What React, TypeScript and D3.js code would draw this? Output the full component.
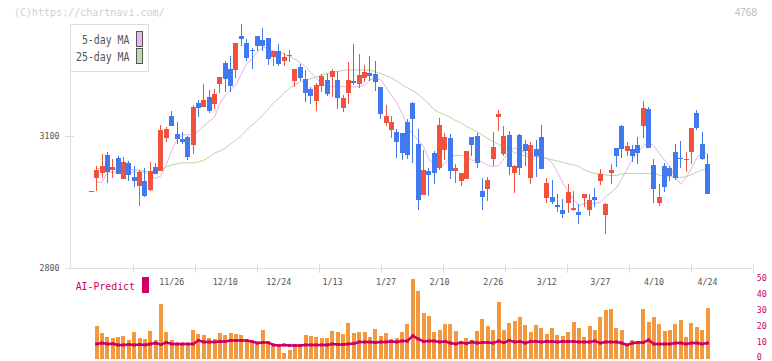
import React from 'react';
import * as d3 from 'd3';

const W = 772;
const H = 361;

// OHLC per trading day (first entry is the previous-day dash)
const opens = [
  2974, 3005, 3017, 3057, 3023, 3050, 3003, 3039, 3007, 2987,
  2998, 2978, 3030, 3021, 3096, 3145, 3105, 3093, 3098, 3080,
  3176, 3165, 3189, 3173, 3219, 3267, 3252, 3250, 3327, 3311,
  3296, 3327, 3318, 3323, 3280, 3293, 3271, 3283, 3226, 3257,
  3230, 3207, 3180, 3214, 3227, 3235, 3227, 3164, 3198, 3226,
  3218, 3232, 3243, 3241, 3211, 3130, 3114, 3109, 3107, 3132,
  3175, 3082, 2966, 3020, 3061, 3027, 3068, 3095, 3020, 2998,
  3002, 3098, 3100, 2975, 2980, 3048, 3143, 3059, 3102, 3016,
  3102, 3082, 3005, 3070, 3098, 2959, 2961, 2943, 2932, 2948,
  2932, 2927, 2959, 2932, 2961, 2998, 2920, 3016, 3073, 3123,
  3066, 3070, 3080, 3123, 3161, 3034, 2948, 3032, 3027, 3064,
  3050, 3048, 3064, 3152, 3082, 3036,
];
const closes = [
  2974, 3023, 3032, 3019, 3030, 3014, 3041, 3012, 2998, 3018,
  2964, 3020, 3014, 3114, 3116, 3123, 3094, 3087, 3052, 3166,
  3164, 3182, 3157, 3195, 3234, 3230, 3214, 3311, 3320, 3277,
  3295, 3305, 3305, 3274, 3293, 3264, 3280, 3283, 3252, 3232,
  3198, 3192, 3216, 3237, 3196, 3248, 3187, 3186, 3227, 3221,
  3239, 3245, 3236, 3223, 3150, 3145, 3132, 3086, 3061, 3057,
  3139, 2955, 3023, 3011, 3016, 3125, 3098, 3020, 3027, 3016,
  3066, 3080, 3039, 2961, 3000, 3075, 3150, 3100, 3030, 3032,
  3027, 3066, 3080, 3055, 3025, 2993, 2950, 2939, 2923, 2973,
  2936, 2920, 2968, 2955, 2955, 3014, 2945, 3023, 3055, 3070,
  3077, 3055, 3061, 3164, 3073, 2980, 2961, 2984, 3009, 3005,
  3048, 3048, 3118, 3118, 3048, 2968,
];
const highs = [
  2974, 3032, 3059, 3064, 3048, 3055, 3052, 3043, 3032, 3023,
  3027, 3041, 3039, 3125, 3120, 3157, 3132, 3109, 3100, 3170,
  3182, 3218, 3205, 3207, 3234, 3270, 3282, 3311, 3355, 3320,
  3300, 3327, 3345, 3323, 3293, 3309, 3288, 3295, 3252, 3264,
  3250, 3211, 3220, 3242, 3242, 3252, 3248, 3193, 3268, 3309,
  3286, 3261, 3282, 3270, 3211, 3170, 3145, 3116, 3107, 3139,
  3177, 3116, 3068, 3027, 3066, 3141, 3107, 3105, 3036, 3016,
  3066, 3098, 3107, 3005, 3007, 3109, 3159, 3123, 3111, 3034,
  3105, 3091, 3086, 3091, 3125, 3005, 3000, 2968, 2957, 2991,
  2975, 2945, 2968, 2968, 2982, 3025, 2948, 3036, 3073, 3125,
  3086, 3080, 3098, 3180, 3166, 3048, 2991, 3039, 3032, 3082,
  3089, 3064, 3118, 3159, 3109, 3059,
];
const lows = [
  2974, 2974, 3005, 2994, 3005, 3014, 3003, 2998, 2985, 2942,
  2962, 2976, 3014, 3021, 3087, 3123, 3082, 3082, 3045, 3059,
  3144, 3165, 3152, 3161, 3198, 3201, 3201, 3232, 3305, 3270,
  3252, 3293, 3293, 3261, 3260, 3258, 3258, 3269, 3212, 3226,
  3178, 3173, 3157, 3201, 3192, 3189, 3162, 3155, 3173, 3216,
  3209, 3223, 3225, 3202, 3139, 3123, 3095, 3050, 3045, 3048,
  3039, 2932, 2966, 2964, 2991, 3023, 3045, 3002, 2993, 2986,
  3002, 3055, 3027, 2932, 2952, 3032, 3111, 3055, 3011, 2970,
  3011, 3032, 2991, 3007, 3025, 2948, 2945, 2927, 2914, 2925,
  2930, 2900, 2939, 2918, 2939, 2989, 2877, 2991, 3030, 3050,
  3055, 3041, 3036, 3095, 3073, 2948, 2941, 2973, 2998, 3000,
  3027, 3018, 3036, 3114, 3045, 2968,
];

const ma5 = [
  null, 2995, 2995, 3018, 3018, 3018, 3016, 3016, 3018, 3019,
  3018, 3009, 3004, 3009, 3034, 3068, 3091, 3102, 3103, 3102,
  3111, 3123, 3133, 3143, 3174, 3193, 3205, 3216, 3241, 3264,
  3275, 3291, 3302, 3299, 3293, 3291, 3286, 3281, 3275, 3266,
  3257, 3244, 3231, 3217, 3212, 3212, 3212, 3212, 3212, 3212,
  3212, 3216, 3228, 3231, 3228, 3211, 3193, 3175, 3152, 3123,
  3103, 3091, 3076, 3048, 3032, 3027, 3038, 3053, 3056, 3056,
  3052, 3045, 3045, 3041, 3033, 3030, 3033, 3048, 3064, 3073,
  3068, 3062, 3056, 3053, 3052, 3049, 3039, 3018, 2993, 2974,
  2956, 2941, 2947, 2947, 2947, 2949, 2962, 2972, 2982, 3003,
  3025, 3047, 3063, 3077, 3086, 3077, 3061, 3045, 3030, 3006,
  2991, 3005, 3026, 3051, 3061, 3061,
];
const ma25 = [
  null, 3026, 3026, 3025, 3025, 3024, 3024, 3023, 3023, 3022,
  3020, 3019, 3020, 3023, 3030, 3034, 3037, 3039, 3039, 3039,
  3041, 3045, 3052, 3061, 3066, 3072, 3082, 3091, 3101, 3114,
  3125, 3135, 3148, 3161, 3175, 3186, 3198, 3208, 3217, 3223,
  3226, 3231, 3234, 3239, 3242, 3245, 3247, 3249, 3250, 3250,
  3250, 3250, 3250, 3246, 3242, 3237, 3232, 3225, 3217, 3209,
  3203, 3195, 3184, 3173, 3160, 3153, 3148, 3142, 3135, 3130,
  3122, 3116, 3109, 3102, 3094, 3087, 3081, 3075, 3068, 3062,
  3057, 3055, 3053, 3053, 3052, 3049, 3046, 3043, 3040, 3037,
  3034, 3031, 3023, 3018, 3015, 3014, 3011, 3010, 3010, 3014,
  3015, 3015, 3015, 3015, 3015, 3015, 3011, 3008, 3007, 3006,
  3006, 3007, 3012, 3018, 3023, 3024,
];

const volume = [
  null, 20.2, 15.7, 13.2, 12.6, 13.2, 13.9, 11.3, 16.5, 12.6,
  12.0, 17.0, 11.3, 34.0, 16.6, 11.3, 9.0, 9.0, 9.0, 17.6,
  15.1, 14.5, 12.6, 12.0, 15.7, 14.5, 15.7, 15.1, 14.5, 11.3,
  10.7, 10.1, 17.6, 10.1, 7.6, 8.2, 3.1, 5.0, 8.8, 7.6,
  14.5, 13.9, 13.2, 12.6, 12.6, 17.0, 16.4, 15.1, 22.3, 15.7,
  16.4, 16.4, 13.2, 18.3, 13.9, 15.7, 12.0, 12.6, 16.4, 21.4,
  49.7, 42.2, 28.3, 26.4, 16.4, 17.6, 21.4, 21.4, 17.0, 10.7,
  12.6, 11.3, 17.0, 24.6, 20.2, 17.6, 35.3, 17.6, 22.0, 23.3,
  25.8, 20.8, 16.4, 20.8, 18.9, 15.1, 18.9, 14.5, 13.9, 16.4,
  22.7, 18.9, 13.2, 20.2, 17.6, 25.8, 30.2, 30.9, 18.9, 17.6,
  8.8, 11.3, 10.7, 30.9, 22.7, 25.8, 21.4, 17.0, 17.6, 21.4,
  23.9, 13.2, 22.0, 19.5, 17.6, 31.5,
];
const predict = [
  null, 8.8, 9.4, 8.8, 9.0, 8.2, 8.2, 8.5, 8.2, 8.5,
  8.2, 8.8, 9.4, 8.5, 9.7, 8.8, 8.8, 8.8, 8.8, 8.8,
  11.0, 10.1, 10.1, 10.1, 10.4, 10.4, 11.0, 11.0, 11.0, 11.0,
  10.4, 9.4, 9.7, 9.7, 8.2, 7.9, 8.2, 7.9, 7.9, 7.9,
  8.2, 8.2, 8.2, 8.2, 8.2, 8.8, 8.5, 8.5, 8.8, 9.1,
  10.1, 10.1, 10.1, 9.7, 10.1, 10.1, 10.4, 10.1, 10.7, 10.7,
  14.0, 12.0, 10.4, 10.7, 10.7, 10.1, 10.4, 9.4, 8.8, 9.7,
  9.1, 10.1, 9.4, 9.7, 9.7, 9.4, 10.7, 9.7, 11.0, 10.1,
  10.4, 9.4, 10.4, 10.4, 10.1, 10.4, 10.4, 10.1, 10.4, 10.4,
  10.4, 10.1, 10.1, 10.1, 10.7, 9.4, 10.1, 10.1, 10.1, 9.4,
  8.2, 9.4, 9.7, 9.7, 11.3, 8.8, 8.8, 8.8, 8.8, 9.4,
  9.4, 8.8, 9.4, 9.4, 8.8, 9.4,
];

const dateLabels = ['11/26', '12/10', '12/24', '1/13', '1/27', '2/10', '2/26', '3/12', '3/27', '4/10', '4/24'];
const dateLabelIdx = [15, 25, 35, 45, 55, 65, 75, 85, 95, 105, 115];
const priceTicks = [2800, 3100];
const volTicks = [0, 10, 20, 30, 40, 50];

const UP = '#f0523e';
const DOWN = '#4179ee';
const MONO = '"DejaVu Sans Mono", monospace';

export default function App() {
  const n = opens.length;
  const x = d3.scaleLinear().domain([0, n - 1]).range([91.3, 707.5]);
  const y = d3.scaleLinear().domain([2800, 3100]).range([268, 136]);
  const yv = d3.scaleLinear().domain([0, 50]).range([358, 278.5]);
  const tickX = d3.scaleLinear().domain([0, 11]).range([70.5, 752.5]);

  const maLine = d3.line<number | null>()
    .defined(d => d != null)
    .x((_, i) => x(i))
    .y(d => y(d as number));
  const predLine = d3.line<number | null>()
    .defined(d => d != null)
    .x((_, i) => x(i))
    .y(d => yv(d as number));

  return (
    <div style={{ position: 'absolute', left: 0, top: 0 }}>
      <svg width={W} height={H} style={{ display: 'block', background: '#fff' }}>
        <text x={14} y={16} fontFamily={MONO} fontSize={10} fill="#cfcfcf">(C)https://chartnavi.com/</text>
        <text x={757} y={16} textAnchor="end" fontFamily="Liberation Sans, Arial" fontSize={10} fill="#bbb">4768</text>

        {/* axes */}
        <line x1={70.5} y1={24} x2={70.5} y2={268} stroke="#ddd" />
        <line x1={65} y1={268.5} x2={752.5} y2={268.5} stroke="#ddd" />
        {d3.range(1, 12).map(j => (
          <line key={j} x1={Math.round(tickX(j)) + 0.5} x2={Math.round(tickX(j)) + 0.5} y1={264} y2={273} stroke="#ddd" />
        ))}
        {priceTicks.map(p => (
          <g key={p}>
            <line x1={65} x2={74} y1={Math.round(y(p)) + 0.5} y2={Math.round(y(p)) + 0.5} stroke="#ddd" />
            <text x={59.5} y={y(p) + 3} textAnchor="end" fontFamily={MONO} fontSize={8.3} fill="#555">{p}</text>
          </g>
        ))}
        {dateLabels.map((t, i) => (
          <text key={t} x={x(dateLabelIdx[i])} y={285} textAnchor="middle" fontFamily={MONO} fontSize={8.3} fill="#555">{t}</text>
        ))}

        {/* moving averages */}
        <path d={maLine(ma25) || ''} fill="none" stroke="#b2d9a4" strokeWidth={1} />
        <path d={maLine(ma5) || ''} fill="none" stroke="#e6b0e8" strokeWidth={1} />

        {/* candles */}
        <g shapeRendering="crispEdges">
          {opens.map((o, i) => {
            const c = closes[i];
            const col = c >= o ? UP : DOWN;
            const cx = x(i);
            const top = y(Math.max(o, c));
            const bh = Math.max(1, Math.abs(y(o) - y(c)));
            return (
              <g key={i}>
                <line x1={Math.floor(cx) + 0.5} x2={Math.floor(cx) + 0.5} y1={y(highs[i])} y2={y(lows[i])} stroke={col} />
                <rect x={cx - 2.5} y={top} width={5} height={bh} fill={col} />
              </g>
            );
          })}
        </g>

        {/* legend */}
        <rect x={70.5} y={24.5} width={78} height={47} fill="#fff" stroke="#ddd" />
        <text x={129.5} y={44.3} textAnchor="end" fontFamily={MONO} fontSize={12.5} textLength={47.6} lengthAdjust="spacingAndGlyphs" fill="#555">5-day MA</text>
        <text x={129.5} y={61} textAnchor="end" fontFamily={MONO} fontSize={12.5} textLength={53.5} lengthAdjust="spacingAndGlyphs" fill="#555">25-day MA</text>
        <rect x={136.5} y={31.5} width={6} height={15} fill="#eab8ea" stroke="#555" />
        <rect x={136.5} y={48.5} width={6} height={15} fill="#bcdcb0" stroke="#555" />

        {/* AI-Predict panel */}
        <text x={75.7} y={290} fontFamily={MONO} fontSize={11} textLength={59.3} lengthAdjust="spacingAndGlyphs" fill="#cc0066">AI-Predict</text>
        <rect x={142} y={277} width={7} height={16} fill="#cc0066" />
        {volTicks.map(v => (
          <text key={v} x={756.7} y={Math.min(yv(v) + 2.8, 359.5)} fontFamily={MONO} fontSize={8.3} fill="#cc0066">{v}</text>
        ))}
        <g shapeRendering="crispEdges">
          {volume.map((v, i) => v == null ? null : (
            <rect key={i} x={x(i) - 2} y={yv(v)} width={4} height={358.5 - yv(v)} fill="#f2983f" />
          ))}
        </g>
        <path d={predLine(predict) || ''} fill="none" stroke="#cc0066" strokeWidth={2.5} />
        {predict.map((v, i) => v == null ? null : (
          <rect key={i} x={x(i) - 1.5} y={yv(v) - 1.5} width={3} height={3} fill="#cc0066" />
        ))}
      </svg>
    </div>
  );
}
